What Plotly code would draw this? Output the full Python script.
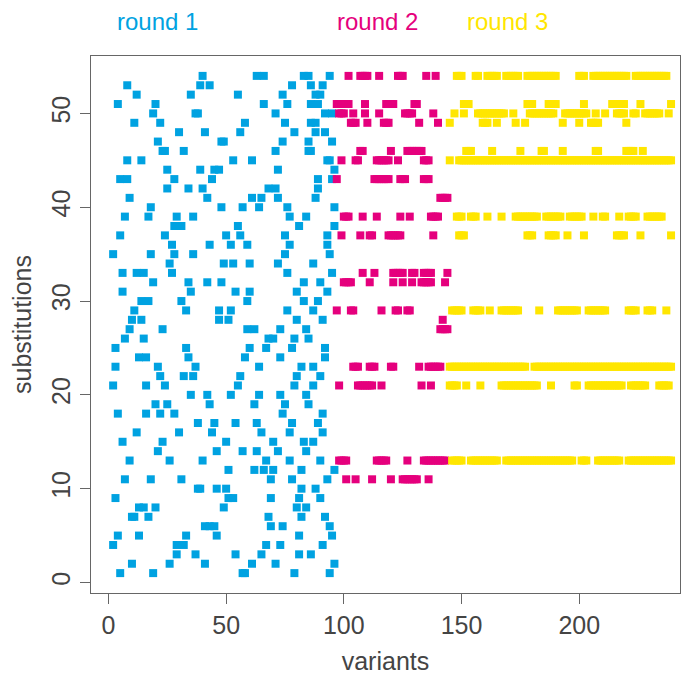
import plotly.graph_objects as go

# ---------------- data: substitution row -> variants carrying it ----------------
round1_rows = {
    54: [40, 63, 66, 83, 85, 94], 53: [8, 39, 43, 78, 86, 91], 52: [12, 35, 55, 74, 88, 90],
    51: [4, 20, 66, 76, 86, 89], 50: [19, 37, 38, 71, 92, 95], 49: [11, 22, 58, 75, 86, 88],
    48: [30, 41, 56, 79, 88, 92], 47: [21, 48, 49, 74, 85, 95], 46: [23, 24, 32, 71, 85, 86],
    45: [8, 14, 53, 61, 93, 94], 44: [25, 39, 45, 47, 72, 96], 43: [5, 8, 28, 44, 89, 95],
    42: [25, 34, 40, 68, 71, 89], 41: [9, 42, 61, 65, 72, 88], 40: [18, 48, 57, 64, 76, 96],
    39: [7, 17, 29, 36, 77, 84], 38: [28, 31, 55, 81, 96], 37: [5, 24, 50, 56, 75, 93],
    36: [27, 43, 52, 59, 77, 93], 35: [2, 18, 28, 36, 75, 94], 34: [26, 49, 53, 60, 72, 87],
    33: [6, 12, 15, 27, 76, 95], 32: [19, 34, 42, 48, 83, 90], 31: [6, 35, 54, 60, 80, 93],
    30: [14, 17, 31, 59, 83, 89], 29: [11, 33, 47, 52, 76, 87], 28: [10, 14, 47, 51, 80, 91],
    27: [9, 23, 59, 62, 73, 84], 26: [7, 15, 68, 70, 79, 85], 25: [3, 33, 60, 67, 78, 92],
    24: [13, 16, 34, 58, 73, 92], 23: [3, 21, 37, 64, 82, 87], 22: [22, 32, 36, 56, 80, 90],
    21: [2, 16, 24, 55, 79, 87], 20: [35, 42, 52, 64, 73, 84], 19: [20, 25, 43, 62, 75, 85],
    18: [4, 16, 22, 28, 74, 91], 17: [38, 45, 54, 63, 78, 89], 16: [12, 30, 44, 65, 77, 91],
    15: [6, 23, 50, 70, 83, 87], 14: [21, 46, 57, 63, 72, 84], 13: [9, 26, 40, 67, 77, 90],
    12: [51, 62, 66, 70, 82, 96], 11: [7, 18, 31, 69, 78, 93], 10: [38, 39, 46, 50, 82, 88],
    9: [3, 51, 53, 69, 81, 90], 8: [13, 15, 20, 49, 80, 84], 7: [10, 11, 17, 68, 82, 92],
    6: [41, 43, 45, 69, 74, 94], 5: [4, 13, 33, 46, 81, 95], 4: [2, 29, 32, 67, 73, 91],
    3: [29, 37, 54, 65, 81, 86], 2: [10, 26, 41, 61, 71, 96], 1: [5, 19, 57, 58, 79, 94],
}

round2_rows = {
    54: [102, 107, 108, 109, 110, 115, 123, 124, 125, 135, 139],
    51: [97, 98, 99, 100, 101, 102, 109, 118, 119, 120, 121, 130, 131],
    50: [98, 99, 100, 104, 109, 115, 126, 127, 128, 129, 138],
    49: [103, 104, 105, 110, 117, 118, 119, 132, 140],
    46: [107, 108, 120, 127, 128, 129, 130, 131, 132, 133],
    45: [99, 105, 106, 114, 115, 116, 117, 118, 119, 123, 134, 135, 136],
    43: [97, 113, 114, 115, 116, 117, 118, 119, 124, 125, 126, 134, 135, 136],
    41: [141, 142, 143, 144],
    39: [100, 101, 102, 108, 114, 124, 128, 137, 138, 139, 140],
    37: [99, 107, 111, 112, 119, 120, 121, 122, 123, 124, 138],
    33: [108, 113, 121, 122, 123, 124, 125, 129, 130, 134, 135, 136, 137, 144],
    32: [100, 101, 102, 103, 111, 121, 125, 129, 133, 134, 135, 136, 137, 143],
    29: [97, 103, 104, 116, 122, 123, 127, 128],
    28: [142],
    27: [141, 142, 143, 144],
    23: [104, 105, 106, 111, 112, 113, 120, 121, 132, 136, 137, 138, 139, 140, 141],
    21: [98, 106, 107, 108, 109, 110, 111, 112, 116, 133, 137],
    13: [98, 99, 100, 101, 114, 115, 116, 117, 118, 127,
         134, 135, 136, 137, 138, 139, 140, 141, 142, 143],
    11: [101, 105, 112, 120, 125, 126, 127, 128, 129, 130, 131, 136],
}

round3_rows = {
    54: [148, 149, 150, 156, 157, 161, 162, 163, 164, 165, 169, 170, 171, 172, 173, 174,
         178, 179, 180, 181, 182, 183, 184, 185, 186, 187, 188, 189, 190, 200, 201, 202,
         206, 207, 208, 209, 210, 211, 212, 213, 214, 215, 216, 217, 218, 219, 220,
         224, 225, 226, 227, 228, 229, 230, 231, 232, 233, 234, 235, 236, 237],
    51: [151, 152, 153, 178, 179, 180, 187, 188, 189, 190, 202,
         214, 215, 216, 217, 218, 219, 226, 239],
    50: [147, 151, 157, 158, 159, 160, 161, 162, 163, 164, 165, 166, 167, 168, 172,
         179, 180, 181, 182, 183, 184, 185, 186, 187, 188, 189,
         194, 195, 196, 197, 198, 199, 200, 201, 202, 203, 207, 211,
         216, 217, 218, 219, 223, 224, 228, 229, 230, 231, 232, 233, 234, 238],
    49: [145, 159, 160, 161, 165, 173, 177, 193, 200, 205, 206, 207, 208, 220],
    46: [152, 153, 154, 163, 175, 184, 185, 193, 207, 208, 220, 221, 222, 223, 227],
    45: [145, 149, 150, 151, 152, 153, 154, 155, 156, 157, 158, 159, 160, 161, 162, 163,
         164, 165, 166, 167, 168, 169, 170, 171, 172, 173, 174, 175, 176, 177, 178, 179,
         180, 181, 182, 183, 184, 185, 186, 187, 188, 189, 190, 191, 192, 193, 194, 195,
         196, 197, 198, 199, 200, 201, 202, 203, 204, 205, 206, 207, 208, 209, 210, 211,
         212, 213, 214, 215, 216, 217, 218, 219, 220, 221, 222, 223, 224, 225, 226, 227,
         228, 229, 230, 231, 232, 233, 234, 235, 236, 237, 238, 239],
    39: [148, 149, 150, 154, 155, 156, 161, 167,
         173, 174, 175, 176, 177, 178, 179, 180, 181, 182,
         186, 187, 188, 189, 190, 191, 192, 196, 197, 198, 199, 200, 201,
         206, 210, 211, 217, 221, 222, 223, 224, 229, 230, 231, 232, 233, 234, 235],
    37: [149, 150, 151, 178, 179, 180, 187, 188, 189, 190, 195, 202,
         216, 217, 218, 219, 226, 239],
    29: [146, 147, 148, 149, 150, 155, 156, 157, 158, 162,
         167, 168, 169, 170, 171, 172, 173, 174, 183,
         191, 192, 193, 194, 195, 196, 197, 198, 199,
         204, 205, 206, 207, 208, 209, 210, 211, 221, 222, 223, 224, 229, 230, 231, 237],
    23: [145, 146, 147, 148, 149, 150, 151, 152, 153, 154, 155, 156, 157, 158, 159, 160,
         161, 162, 163, 164, 165, 166, 167, 168, 169, 170, 171, 172, 173, 174, 175, 176, 177,
         181, 182, 183, 184, 185, 186, 187, 188, 189, 190, 191, 192, 193, 194, 195, 196,
         197, 198, 199, 200, 201, 202, 203, 204, 205, 206, 207, 208, 209, 210, 211, 212,
         213, 214, 215, 216, 217, 218, 219, 220, 221, 222, 223, 224, 225, 226, 227, 228,
         229, 230, 231, 232, 233, 234, 235, 236, 237, 238, 239],
    21: [145, 146, 147, 148, 152, 158,
         167, 168, 169, 170, 171, 172, 173, 174, 175, 176, 177, 178, 179, 180, 181, 182,
         188, 198, 199, 204, 205, 206, 207, 208, 209, 210, 211, 212, 213, 214, 215, 216,
         217, 218, 222, 223, 224, 225, 226, 227, 228, 234, 235, 236, 237, 238],
    13: [146, 147, 148, 149, 150, 154, 155, 156, 157, 158, 159, 160, 161, 162, 163, 164, 165,
         169, 170, 171, 172, 173, 174, 175, 176, 177, 178, 179, 180, 181, 182, 183, 184,
         185, 186, 187, 188, 189, 190, 191, 192, 193, 194, 195, 196, 197, 201, 202, 203,
         208, 209, 210, 211, 212, 213, 214, 215, 216, 217,
         221, 222, 223, 224, 225, 226, 227, 228, 229, 230, 231, 232, 233, 234, 235, 236,
         237, 238, 239],
}

round_names = ["round 1", "round 2", "round 3"]
round_colors = ["#00A2E1", "#E5007D", "#FFE600"]
x_ticks = [0, 50, 100, 150, 200]
y_ticks = [0, 10, 20, 30, 40, 50]

# ---------------- figure ----------------
# the page body adds an 8px offset, so the figure is drawn 8px smaller
OFF = 8
W, H = 689 - OFF, 677 - OFF
ML, MR, MT, MB = 91 - OFF, 9, 56 - OFF, 84
fig = go.Figure()

for rows, name, color in zip([round1_rows, round2_rows, round3_rows], round_names, round_colors):
    xs, ys = [], []
    for sub, variants in rows.items():
        for v in variants:
            xs.append(v)
            ys.append(sub)
    fig.add_trace(go.Scatter(
        x=xs, y=ys, mode="markers", name=name, showlegend=False,
        marker=dict(symbol="square", size=8, color=color, line=dict(width=0)),
        hoverinfo="x+y",
    ))

axis_col = "#666666"
text_col = "#444444"
font_fam = "Liberation Sans, Arial, sans-serif"
tick_font = dict(family=font_fam, size=25, color=text_col)

fig.update_layout(
    width=W, height=H,
    margin=dict(l=ML, r=MR, t=MT, b=MB, autoexpand=False),
    paper_bgcolor="white", plot_bgcolor="white",
    xaxis=dict(range=[-7.4, 242.8], tickvals=x_ticks, ticktext=[str(t) for t in x_ticks],
               ticks="outside", ticklen=10, tickwidth=1, tickcolor=axis_col,
               showline=True, mirror=True, linecolor=axis_col, linewidth=1,
               showgrid=False, zeroline=False, tickfont=tick_font, fixedrange=True,
               automargin=False,
               title=dict(text="variants", font=dict(family=font_fam, size=25, color=text_col),
                          standoff=14)),
    yaxis=dict(range=[-1.12, 56.12], tickvals=y_ticks, ticktext=[str(t) for t in y_ticks],
               tickangle=-90,
               ticks="outside", ticklen=10, tickwidth=1, tickcolor=axis_col,
               showline=True, mirror=True, linecolor=axis_col, linewidth=1,
               showgrid=False, zeroline=False, tickfont=tick_font, fixedrange=True,
               automargin=False,
               title=dict(text="substitutions", font=dict(family=font_fam, size=25, color=text_col),
                          standoff=16)),
)

def px_to_paper_x(px):
    return (px - OFF - ML) / (W - ML - MR)

def px_to_paper_y(py):
    return 1 - (py - OFF - MT) / (H - MT - MB)

title_left_px = [115, 335, 465]
for name, color, left in zip(round_names, round_colors, title_left_px):
    fig.add_annotation(text=name, xref="paper", yref="paper",
                       x=px_to_paper_x(left), y=px_to_paper_y(22),
                       xanchor="left", yanchor="middle", showarrow=False,
                       font=dict(family=font_fam, size=24, color=color))

fig.write_html("out.html")
